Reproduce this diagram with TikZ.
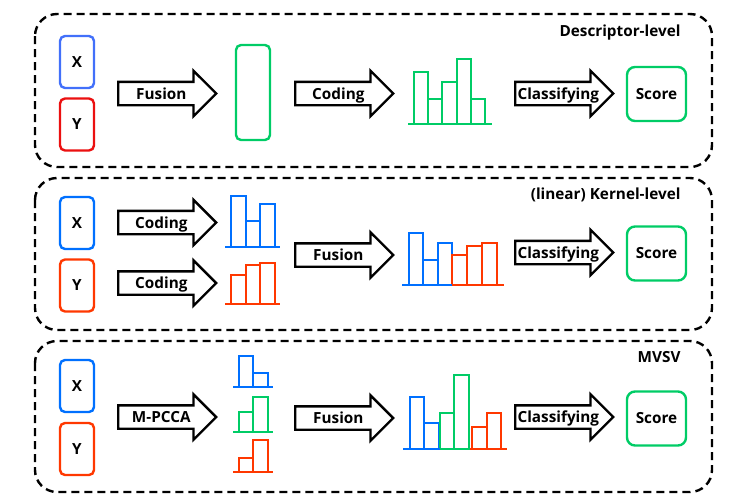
\documentclass[tikz,border=0pt]{standalone}
\usepackage{fontspec}
\setmainfont{Open Sans}
\usetikzlibrary{shapes.arrows}

\definecolor{azulA}{RGB}{66,112,250}
\definecolor{azul}{RGB}{0,112,255}
\definecolor{rojo}{RGB}{235,16,16}
\definecolor{naranja}{RGB}{255,56,0}
\definecolor{verde}{RGB}{0,204,102}

\begin{document}
\begin{tikzpicture}[x=1pt,y=-1pt,
    letra/.style={font=\bfseries\fontsize{15.3}{16}\selectfont},
    caja/.style={draw, letra, rounded corners=5pt, line width=2.4pt,
      minimum width=34pt, minimum height=52pt, inner sep=0pt},
    flecha/.style={draw, letra, single arrow, anchor=tail, line width=2.4pt,
      single arrow head extend=11pt, minimum height=98pt,
      text height=12pt, text depth=1pt, inner ysep=4pt, inner xsep=1pt},
    panel/.style={draw, dash pattern=on 8pt off 5pt, line width=2.4pt,
      rounded corners=22pt},
    puntaje/.style={draw=verde, letra, rounded corners=8pt, line width=2.4pt,
      minimum width=59pt, minimum height=54pt}]
  \useasboundingbox (0,0) rectangle (740,504);

  % Marcos punteados de los tres esquemas
  \draw[panel] (35,14) rectangle (712,167);
  \draw[panel] (35,178) rectangle (712,330);
  \draw[panel] (35,341) rectangle (712,492);

  % Títulos de cada esquema
  \node[letra, anchor=east] (tit1) at (684,33) {Descriptor-level};
  \node[letra, anchor=east] (tit2) at (684,195) {(linear) Kernel-level};
  \node[letra, anchor=east] (tit3) at (684,357) {MVSV};

  % ---------- Nivel descriptor ----------
  \node[caja, draw=azulA] (x1) at (77,62) {X};
  \node[caja, draw=rojo] (y1) at (77,124.5) {Y};
  \node[flecha] (fus1) at (117,93.5) {Fusion};
  \node[draw=verde, rounded corners=5pt, line width=2.4pt, minimum width=34pt,
    minimum height=95pt] (vec1) at (253,92.5) {};
  \node[flecha] (cod1) at (294,93.5) {Coding};
  % Histograma verde
  \foreach \xa/\xb/\t in {414/428/72, 428/442/99, 442/457/82, 457/471/59, 471/485/99}
    \draw[verde, line width=2.4pt] (\xa,124) rectangle (\xb,\t);
  \draw[verde, line width=2.4pt] (408,124) -- (492,124);
  \node[flecha] (cla1) at (514,93.5) {\makebox[70pt]{Classifying}};
  \node[puntaje] (sc1) at (656.5,94) {Score};

  % ---------- Nivel kernel ----------
  \node[caja, draw=azul] (x2) at (77,223) {X};
  \node[caja, draw=naranja] (y2) at (77,285.5) {Y};
  \node[flecha] (cod2) at (117,222.5) {Coding};
  \node[flecha] (cod3) at (117,283) {Coding};
  % Histogramas azul y rojo
  \foreach \xa/\xb/\t in {231/246/196, 246/260/221, 260/275/204}
    \draw[azul, line width=2.4pt] (\xa,247) rectangle (\xb,\t);
  \draw[azul, line width=2.4pt] (225,247) -- (280,247);
  \foreach \xa/\xb/\t in {231/246/275, 246/260/265, 260/275/263}
    \draw[naranja, line width=2.4pt] (\xa,304) rectangle (\xb,\t);
  \draw[naranja, line width=2.4pt] (225,304) -- (280,304);
  \node[flecha] (fus2) at (294,255) {Fusion};
  % Histograma concatenado
  \foreach \xa/\xb/\t/\c in {409/423/233/azul, 423/438/260/azul, 438/452/243/azul,
      452/467/255/naranja, 467/482/246/naranja, 482/497/243/naranja}
    \draw[\c, line width=2.4pt] (\xa,285) rectangle (\xb,\t);
  \draw[azul, line width=2.4pt] (402,285) -- (452,285);
  \draw[naranja, line width=2.4pt] (452,285) -- (504,285);
  \node[flecha] (cla2) at (514,252.5) {\makebox[70pt]{Classifying}};
  \node[puntaje] (sc2) at (656.5,253.5) {Score};

  % ---------- MVSV ----------
  \node[caja, draw=azul] (x3) at (77,386) {X};
  \node[caja, draw=naranja] (y3) at (77,449) {Y};
  \node[flecha] (mp3) at (117,417) {M-PCCA};
  % Histogramas pequeños
  \foreach \yb/\ta/\tb/\c in {387/356/373/azul, 432/412/397/verde, 472/458/440/naranja} {
    \draw[\c, line width=2.4pt] (239,\yb) rectangle (253,\ta);
    \draw[\c, line width=2.4pt] (253,\yb) rectangle (268,\tb);
    \draw[\c, line width=2.4pt] (233,\yb) -- (273,\yb);
  }
  \node[flecha] (fus3) at (294,418) {Fusion};
  % Histograma fusionado
  \foreach \xa/\xb/\t/\c in {410/424/397/azul, 424/439/423/azul, 440/454/413/verde,
      454/469/375/verde, 472/487/427/naranja, 487/501/413/naranja}
    \draw[\c, line width=2.4pt] (\xa,449) rectangle (\xb,\t);
  \draw[azul, line width=2.4pt] (403,449) -- (440,449);
  \draw[verde, line width=2.4pt] (440,449) -- (470,449);
  \draw[naranja, line width=2.4pt] (470,449) -- (507,449);
  \node[flecha] (cla3) at (514,417) {\makebox[70pt]{Classifying}};
  \node[puntaje] (sc3) at (656.5,418.5) {Score};
\end{tikzpicture}
\end{document}
